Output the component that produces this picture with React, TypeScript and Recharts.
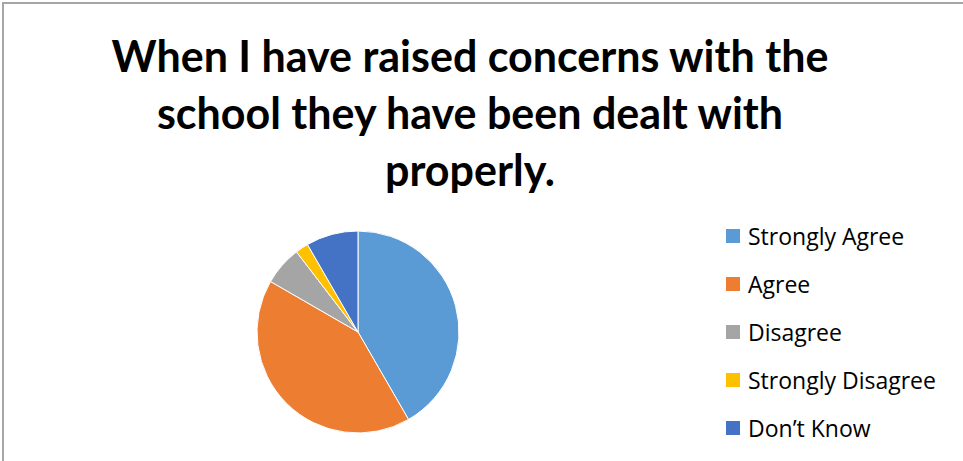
import { PieChart, Pie, Cell, Legend, Customized } from 'recharts';

const categories = ['Strongly Agree', 'Agree', 'Disagree', 'Strongly Disagree', 'Don’t Know'];
const responses = [20, 20, 3, 1, 4];
const colors = ['#5B9BD5', '#ED7D31', '#A5A5A5', '#FFC000', '#4472C4'];
const titleLines = [
  'When I have raised concerns with the',
  'school they have been dealt with',
  'properly.',
];

const data = categories.map((name, i) => ({ name, value: responses[i] }));

const FONT = 'Lato, "Open Sans", sans-serif';
const LEGEND_FONT = '"Open Sans", Lato, sans-serif';

function Title() {
  return (
    <g>
      {titleLines.map((line, i) => (
        <text
          key={i}
          x={470}
          y={72 + i * 57}
          textAnchor="middle"
          fontFamily={FONT}
          fontWeight={700}
          fontSize={43}
          fill="#000"
        >
          {line}
        </text>
      ))}
    </g>
  );
}

function LegendList() {
  return (
    <div style={{ fontFamily: LEGEND_FONT }}>
      {categories.map((name, i) => (
        <div key={name} style={{ display: 'flex', alignItems: 'center', height: 48 }}>
          <span
            style={{
              width: 14,
              height: 14,
              background: colors[i],
              display: 'inline-block',
              marginRight: 8,
            }}
          />
          <span style={{ fontSize: 23, color: '#000', lineHeight: '24px' }}>{name}</span>
        </div>
      ))}
    </div>
  );
}

export default function App() {
  return (
    <div style={{ position: 'absolute', top: 0, left: 0, width: 963, height: 461, background: '#fff' }}>
      <div
        style={{
          position: 'absolute',
          left: 2,
          top: 2,
          width: 970,
          height: 470,
          borderLeft: '2px solid #a6a6a6',
          borderTop: '2px solid #a6a6a6',
        }}
      />
      <PieChart
        width={963}
        height={461}
        margin={{ top: 0, right: 0, bottom: 0, left: 0 }}
        style={{ position: 'absolute', top: 0, left: 0 }}
      >
        <Customized component={Title} />
        <Pie
          data={data}
          dataKey="value"
          nameKey="name"
          cx={358}
          cy={332}
          outerRadius={101}
          startAngle={90}
          endAngle={-270}
          stroke="#fff"
          strokeWidth={1}
          isAnimationActive={false}
        >
          {data.map((d, i) => (
            <Cell key={d.name} fill={colors[i]} />
          ))}
        </Pie>
        <Legend
          layout="vertical"
          content={() => <LegendList />}
          wrapperStyle={{ position: 'absolute', left: 726, top: 212, width: 237 }}
        />
      </PieChart>
    </div>
  );
}
